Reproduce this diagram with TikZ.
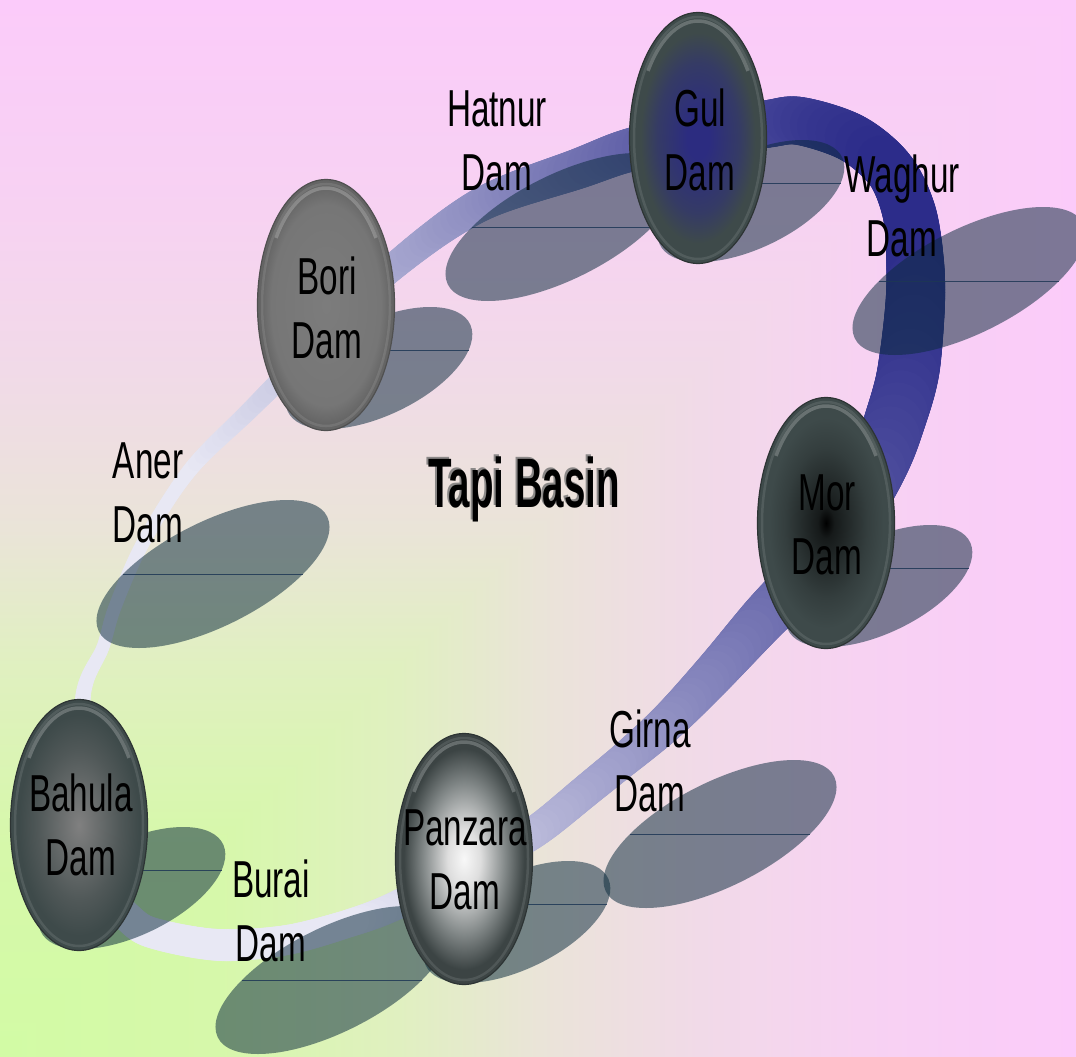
\documentclass[tikz,border=0pt]{standalone}
\usepackage{fontspec}
\usetikzlibrary{shapes.geometric,decorations.markings,calc}
\newfontfamily\damfont{Liberation Sans}[FakeStretch=0.64]
\newfontfamily\titlefont{Liberation Sans Bold}[FakeStretch=0.55]

\definecolor{bg0}{RGB}{210,251,165}
\definecolor{bg1}{RGB}{214,248,170}
\definecolor{bg2}{RGB}{224,240,192}
\definecolor{bg3}{RGB}{234,228,216}
\definecolor{bg4}{RGB}{241,218,232}
\definecolor{bg5}{RGB}{247,210,242}
\definecolor{bg6}{RGB}{251,203,250}
\pgfdeclarehorizontalshading{bgh}{100bp}{color(0bp)=(bg0); color(25bp)=(bg0); color(35bp)=(bg1); color(43.5bp)=(bg2); color(50bp)=(bg3); color(57.5bp)=(bg4); color(65bp)=(bg5); color(75bp)=(bg6); color(100bp)=(bg6)}
\pgfdeclareverticalshading{bgv}{100bp}{color(0bp)=(bg0); color(25bp)=(bg0); color(35bp)=(bg1); color(43.5bp)=(bg2); color(50bp)=(bg3); color(57.5bp)=(bg4); color(65bp)=(bg5); color(75bp)=(bg6); color(100bp)=(bg6)}

\definecolor{bandL}{RGB}{232,232,244}
\definecolor{bandD}{RGB}{44,44,138}
\definecolor{shadowc}{RGB}{10,42,60}
\definecolor{shadowl}{RGB}{30,55,85}
\definecolor{nedge}{RGB}{62,74,74}
\definecolor{noderim}{RGB}{45,52,52}
\definecolor{gulin}{RGB}{44,44,128}
\definecolor{gulmid}{RGB}{53,59,101}
\definecolor{morin}{RGB}{0,0,0}
\definecolor{mormid}{RGB}{22,26,26}
\definecolor{mormid2}{RGB}{52,62,62}
\definecolor{bahin}{RGB}{128,128,128}
\definecolor{bahmid}{RGB}{80,88,88}
\definecolor{panin}{RGB}{248,248,248}
\definecolor{panmid}{RGB}{222,222,222}
\definecolor{panout}{RGB}{130,136,136}
\definecolor{panedge}{RGB}{60,68,68}
\definecolor{borin}{RGB}{124,124,124}
\definecolor{bormid}{RGB}{118,118,118}
\definecolor{boredge}{RGB}{100,100,100}
\definecolor{borrim}{RGB}{80,80,80}

\pgfdeclareradialshading{gulsh}{\pgfpointorigin}{color(0bp)=(gulin); color(4bp)=(gulin); color(15bp)=(gulmid); color(21bp)=(nedge); color(50bp)=(nedge)}
\pgfdeclareradialshading{morsh}{\pgfpointorigin}{color(0bp)=(morin); color(3bp)=(mormid); color(15bp)=(mormid2); color(21bp)=(nedge); color(50bp)=(nedge)}
\pgfdeclareradialshading{bahsh}{\pgfpointorigin}{color(0bp)=(bahin); color(15bp)=(bahmid); color(22bp)=(nedge); color(50bp)=(nedge)}
\pgfdeclareradialshading{pansh}{\pgfpointorigin}{color(0bp)=(panin); color(6bp)=(panmid); color(15bp)=(panout); color(22bp)=(panedge); color(50bp)=(panedge)}
\pgfdeclareradialshading{borsh}{\pgfpointorigin}{color(0bp)=(borin); color(20bp)=(bormid); color(24bp)=(boredge); color(50bp)=(boredge)}

\begin{document}
\begin{tikzpicture}[x=1pt,y=-1pt,
  damnode/.style={ellipse, minimum width=137pt, minimum height=251pt, inner sep=0pt,
    draw=noderim, line width=1.2pt, shade},
  damtext/.style={align=center, inner sep=0pt, text=black,
    font=\damfont\fontsize{52pt}{64pt}\selectfont},
  shadowfill/.style={fill=shadowc, fill opacity=0.52},
  shadowline/.style={draw=shadowl, line width=1pt, draw opacity=0.85},
  rimhl/.style={draw=white, draw opacity=0.22, line width=3.5pt},
  rimall/.style={draw=white, draw opacity=0.10, line width=2.5pt},
]
\useasboundingbox (0,0) rectangle (1076,1057);

% background
\shade[shading=bgh] (0,0) rectangle (1076,1057);
\shade[shading=bgv] (0,0) -- (1076,0) -- (0,1057) -- cycle;

% ring band
\path[decorate, decoration={markings,
  mark=between positions 0 and 1 step 2.5pt with {%
    \pgfgettransformentries{\ma}{\mb}{\mc}{\md}{\mtx}{\mty}%
    \pgfmathsetmacro\bfr{\pgfkeysvalueof{/pgf/decoration/mark info/distance from start}/\pgfdecoratedpathlength}%
    \pgfmathsetmacro\bs{\bfr*2560}%
    \pgfmathsetmacro\br{(13 + 1*max(0,min(1,(\bs-0)/170)) + 6*max(0,min(1,(\bs-170)/170))
       + 10*max(0,min(1,(\bs-340)/200)) + 8*max(0,min(1,(\bs-540)/110))
       + 8*max(0,min(1,(\bs-650)/150)) + 4*max(0,min(1,(\bs-800)/230))
       + 8*max(0,min(1,(\bs-1030)/100)) + 4*max(0,min(1,(\bs-1130)/100))
       - 2*max(0,min(1,(\bs-1230)/110)) - 6*max(0,min(1,(\bs-1340)/110))
       - 10*max(0,min(1,(\bs-1450)/130)) - 10*max(0,min(1,(\bs-1580)/150))
       - 6*max(0,min(1,(\bs-1730)/320)) + 4*max(0,min(1,(\bs-2050)/120))
       - 2*max(0,min(1,(\bs-2170)/130)) - 8*max(0,min(1,(\bs-2300)/70))
       - 9*max(0,min(1,(\bs-2370)/190)))/2}%
    \pgfmathtruncatemacro\bd{max(0,min(100,(\mtx - 130 + 0.35*(\mty + 300))/8))}%
    \fill[bandD!\bd!bandL] (0,0) circle[radius=\br pt];
  }}]
  plot[smooth cycle, tension=0.55] coordinates {
  (83,697) (103,647) (115,607) (143,543) (190,470) (250,410) (321,339) (392,268)
  (480,205) (580,168) (630,150) (700,135) (767,124) (800,121) (852,138) (890,170)
  (909,212) (915,260) (915,307) (908,373) (895,420) (880,460) (850,515) (800,580)
  (762,620) (710,678) (660,729) (587,790) (530,835) (463,870) (397,905) (353,922)
  (287,940) (220,945) (160,935) (133,922) (105,885) (88,800)};

% node centres
\coordinate (gulc) at (698,138);
\coordinate (boric) at (326,305);
\coordinate (morc) at (826,523);
\coordinate (bahc) at (79,825);
\coordinate (panc) at (464,859);

% shadows of the text shapes
\foreach \px/\py in {562/227,969/281,213/574,720/834,332/980}{
  \begin{scope}[shift={(\px,\py)}, xslant=1.0]
    \fill[shadowfill] (0,0) ellipse[x radius=90, y radius=74];
    \draw[shadowline] (-90,0) -- (90,0);
  \end{scope}
}
% shadows of the ellipses
\foreach \c in {gulc,boric,morc,bahc,panc}{
  \begin{scope}[shift={($(\c)+(53,63)$)}, xslant=0.84]
    \fill[shadowfill] (0,0) ellipse[x radius=78, y radius=61];
    \draw[shadowline] (-74.5,-18) -- (74.5,-18);
  \end{scope}
}

% ellipse nodes
\node[damnode, shading=gulsh] (gul) at (gulc) {};
\node[damnode, shading=borsh, draw=borrim] (bori) at (boric) {};
\node[damnode, shading=morsh] (mor) at (morc) {};
\node[damnode, shading=bahsh] (bahula) at (bahc) {};
\node[damnode, shading=pansh] (panzara) at (panc) {};

% bevel highlights
\foreach \c in {gulc,boric,morc,bahc,panc}{
  \draw[rimall] (\c) ellipse[x radius=64, y radius=121];
  \draw[rimhl] ([shift={(215:61 and 117)}]\c) arc[start angle=215, end angle=325, x radius=61, y radius=117];
}

% texts
\node[damtext] (gul-t) at (700,140) {Gul\\Dam};
\node[damtext] (bori-t) at (327,308) {Bori\\Dam};
\node[damtext] (mor-t) at (827,525) {Mor\\Dam};
\node[damtext] (bahula-t) at (81,825) {Bahula\\Dam};
\node[damtext] (panzara-t) at (465,860) {Panzara\\Dam};
\node[damtext] (hatnur) at (497,141) {Hatnur\\Dam};
\node[damtext] (waghur) at (902,206) {Waghur\\Dam};
\node[damtext] (aner) at (148,493) {Aner\\Dam};
\node[damtext] (girna) at (650,761) {Girna\\Dam};
\node[damtext] (burai) at (271,911) {Burai\\Dam};

% title with its offset shadow
\node[anchor=base, inner sep=0pt, text=black!55, text opacity=0.8,
  font=\titlefont\fontsize{70pt}{80pt}\selectfont] (title-shadow) at (522,505) {Tapi Basin};
\node[anchor=base, inner sep=0pt, text=black,
  font=\titlefont\fontsize{70pt}{80pt}\selectfont] (title) at (524,507) {Tapi Basin};
\end{tikzpicture}
\end{document}
